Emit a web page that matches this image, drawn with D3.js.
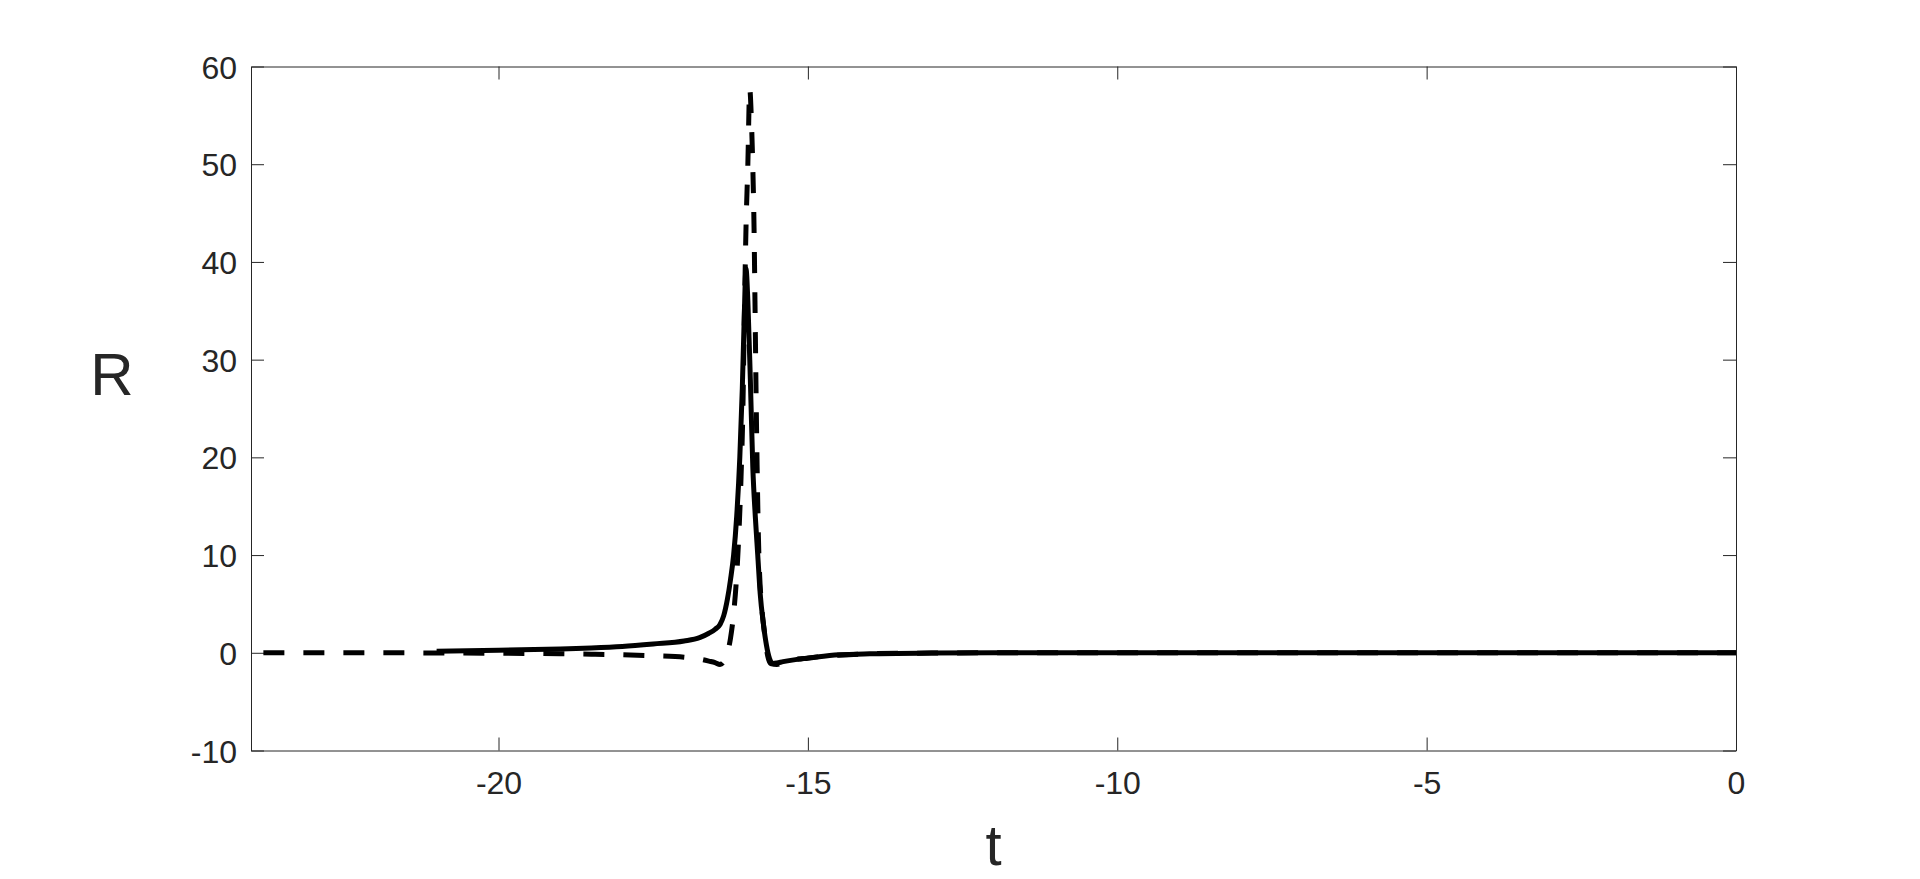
<!DOCTYPE html>
<html>
<head>
<meta charset="utf-8">
<script src="https://cdn.jsdelivr.net/npm/d3@7"></script>
<style>
  html, body { margin: 0; padding: 0; background: #fff; }
  svg { display: block; }
  text { font-family: "Liberation Sans", Arial, Helvetica, sans-serif; fill: #262626; }
</style>
</head>
<body>
<div id="chart"></div>
<script>
// time axis ticks
const xTicks = [-20, -15, -10, -5, 0]
const yTicks = [-10, 0, 10, 20, 30, 40, 50, 60]

// solid series
const solidT = [-21, -20, -19, -18.5, -18, -17.5, -17, -16.75, -16.6, -16.5, -16.42, -16.36, -16.3, -16.25,
  -16.2, -16.15, -16.1, -16.06, -16.03, -16.0, -15.97, -15.93, -15.89, -15.85, -15.81, -15.77, -15.72,
  -15.67, -15.62, -15.57, -15.5, -15.4, -15.2, -15.0, -14.5, -14, -13, -12, -10, -5, 0]
const solidR = [0.15, 0.25, 0.4, 0.5, 0.65, 0.9, 1.2, 1.55, 2.0, 2.4, 2.9, 3.8, 5.5, 7.5,
  10, 14, 20, 27, 34, 39.3, 36, 28, 19, 14, 10, 6, 3,
  0.8, -0.6, -1.1, -1.05, -0.9, -0.7, -0.55, -0.2, -0.1, -0.03, 0, 0, 0, 0]

// dashed series
const dashT = [-23.8, -22, -20, -19, -18.5, -18, -17.5, -17, -16.75, -16.6, -16.5, -16.42, -16.35, -16.3,
  -16.25, -16.2, -16.16, -16.12, -16.08, -16.05, -16.03, -16.0, -15.97, -15.94, -15.91, -15.89, -15.87,
  -15.855, -15.84, -15.82, -15.8, -15.78, -15.75, -15.7, -15.65, -15.6, -15.5, -15.4, -15.3, -15.1,
  -14.8, -14.5, -14, -13, -12, -5, 0]
const dashR = [0, 0, -0.05, -0.1, -0.15, -0.2, -0.3, -0.45, -0.65, -0.85, -1.0, -1.2, -0.8, 0,
  1.5, 4, 7, 11.5, 18, 25, 33, 43.5, 50, 57.7, 54, 49.7, 43.5,
  36, 28, 19, 12, 8, 5, 2, -0.3, -1.1, -1.2, -1.0, -0.8, -0.6,
  -0.4, -0.25, -0.1, -0.03, 0, 0, 0]

const width = 1920
const height = 879
const margin = { top: 66.5, right: 184, bottom: 128.5, left: 251 }

const svg = d3.select('#chart')
  .append('svg')
  .attr('width', width)
  .attr('height', height)

const x = d3.scaleLinear()
  .domain([-24, 0])
  .range([margin.left, width - margin.right])

const y = d3.scaleLinear()
  .domain([-10, 60])
  .range([height - margin.bottom, margin.top])

const axisColor = '#262626'
const fmt = d => String(d)  // plain hyphen, like the original

// bottom axis with labels, ticks pointing in
const xAxis = svg.append('g')
  .attr('transform', `translate(0, ${y(-10)})`)
  .call(d3.axisBottom(x).tickValues(xTicks).tickFormat(fmt).tickSizeInner(-13).tickSizeOuter(0).tickPadding(21))
xAxis.selectAll('text').style('font-size', '32px').attr('dy', '0.71em')

// top axis, ticks only
svg.append('g')
  .attr('transform', `translate(0, ${y(60)})`)
  .call(d3.axisTop(x).tickValues(xTicks).tickSizeInner(-13).tickSizeOuter(0).tickFormat(''))

// left axis with labels
const yAxis = svg.append('g')
  .attr('transform', `translate(${x(-24)}, 0)`)
  .call(d3.axisLeft(y).tickValues(yTicks).tickFormat(fmt).tickSizeInner(-13).tickSizeOuter(0).tickPadding(14))
yAxis.selectAll('text').style('font-size', '32px').attr('dy', '0.36em')

// right axis, ticks only
svg.append('g')
  .attr('transform', `translate(${x(0)}, 0)`)
  .call(d3.axisRight(y).tickValues(yTicks).tickSizeInner(-13).tickSizeOuter(0).tickFormat(''))

svg.selectAll('.domain, .tick line')
  .attr('stroke', axisColor)
  .attr('stroke-width', 1)
svg.selectAll('.tick text').attr('fill', axisColor)

const line = d3.line()
  .x(d => x(d[0]))
  .y(d => y(d[1]))
  .curve(d3.curveMonotoneX)

const plot = svg.append('g')

plot.append('path')
  .datum(d3.zip(dashT, dashR))
  .attr('d', line)
  .attr('fill', 'none')
  .attr('stroke', '#000')
  .attr('stroke-width', 5)
  .attr('stroke-dasharray', '21,19')

plot.append('path')
  .datum(d3.zip(solidT, solidR))
  .attr('d', line)
  .attr('fill', 'none')
  .attr('stroke', '#000')
  .attr('stroke-width', 5)
  .attr('stroke-linejoin', 'round')

// axis labels
svg.append('text')
  .attr('x', 112)
  .attr('y', 395)
  .attr('text-anchor', 'middle')
  .style('font-size', '60px')
  .text('R')

svg.append('text')
  .attr('x', x(-12))
  .attr('y', 865)
  .attr('text-anchor', 'middle')
  .style('font-size', '58px')
  .text('t')
</script>
</body>
</html>
